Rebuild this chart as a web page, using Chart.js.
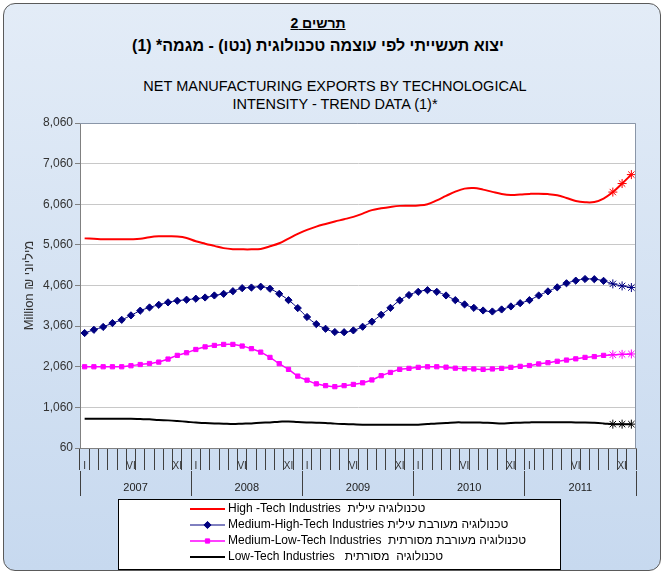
<!DOCTYPE html>
<html>
<head>
<meta charset="utf-8">
<script src="https://cdn.jsdelivr.net/npm/chart.js@4.4.0/dist/chart.umd.min.js"></script>
<style>
  body { margin: 0; background: #fff; font-family: Arial, "Liberation Sans", sans-serif; }
  #wrap { position: relative; width: 665px; height: 575px; overflow: hidden; }
  #panel {
    position: absolute; left: 3px; top: 3px; width: 656px; height: 566px;
    border: 1px solid #5a5a5a; border-radius: 12px;
    background: linear-gradient(to bottom, #e3ecf7, #c7d9ef);
  }
  .he { position: absolute; left: 0; width: 636px; text-align: center; direction: rtl; color: #000; font-weight: bold; }
  #num { top: 15px; font-size: 14px; text-decoration: underline; }
  #heTitle { top: 37px; font-size: 16px; }
  #enTitle { position: absolute; left: 0; top: 77px; width: 670px; text-align: center; font-size: 14.5px; line-height: 18px; color: #000; }
  #grafico { position: absolute; left: 0; top: 0; }
</style>
</head>
<body>
<div id="wrap">
  <div id="panel"></div>
  <div class="he" id="num">תרשים 2</div>
  <div class="he" id="heTitle">יצוא תעשייתי לפי עוצמה טכנולוגית (נטו) - מגמה* (1)</div>
  <div id="enTitle">NET MANUFACTURING EXPORTS BY TECHNOLOGICAL<br>INTENSITY - TREND DATA (1)*</div>
  <canvas id="grafico" width="665" height="575"></canvas>
</div>
<script>
// Datos: enero 2007 - diciembre 2011 (mensual), millones de ₪
const years = ['2007', '2008', '2009', '2010', '2011'];
const monthTicks = ['I', '', '', '', '', 'VI', '', '', '', '', 'XI', ''];
const provisionalCount = 3; // últimos meses marcados con asterisco

const highTech = [
  5220, 5210, 5200, 5200, 5200, 5200, 5210, 5250, 5270, 5270, 5265, 5230,
  5150, 5090, 5035, 4980, 4955, 4950, 4950, 4960, 5025, 5100, 5215, 5330,
  5430, 5510, 5575, 5635, 5690, 5750, 5830, 5915, 5960, 5995, 6020, 6025,
  6030, 6060, 6155, 6265, 6370, 6445, 6460, 6420, 6365, 6315, 6290, 6300,
  6314, 6320, 6310, 6280, 6215, 6140, 6110, 6115, 6200, 6360, 6570, 6790
];
const mediumHighTech = [
  2890, 2970, 3040, 3135, 3215, 3325, 3440, 3520, 3585, 3645, 3685, 3710,
  3735, 3765, 3815, 3855, 3920, 3995, 4010, 4030, 3980, 3855, 3700, 3505,
  3285, 3110, 2995, 2915, 2910, 2955, 3045, 3170, 3340, 3510, 3695, 3825,
  3905, 3945, 3905, 3815, 3700, 3595, 3510, 3445, 3420, 3470, 3545, 3625,
  3700, 3814, 3915, 4015, 4115, 4180, 4220, 4215, 4175, 4100, 4050, 4010
];
const mediumLowTech = [
  2060, 2060, 2060, 2060, 2060, 2085, 2115, 2140, 2175, 2250, 2340, 2405,
  2485, 2550, 2585, 2610, 2610, 2570, 2505, 2420, 2290, 2135, 1995, 1830,
  1730, 1640, 1595, 1570, 1595, 1625, 1665, 1735, 1840, 1920, 1995, 2020,
  2045, 2060, 2060, 2050, 2025, 2010, 2005, 1995, 2005, 2020, 2045, 2070,
  2090, 2130, 2160, 2195, 2225, 2255, 2290, 2310, 2340, 2355, 2365, 2375
];
const lowTech = [
  780, 780, 780, 780, 780, 780, 773, 765, 750, 740, 725, 707,
  685, 675, 666, 658, 650, 658, 666, 680, 690, 705, 715, 700,
  690, 683, 675, 660, 650, 642, 635, 635, 634, 634, 634, 634,
  634, 650, 666, 675, 690, 690, 690, 683, 675, 666, 675, 683,
  690, 695, 695, 695, 695, 690, 690, 680, 665, 647, 647, 647
];

const labels = years.flatMap(y => monthTicks.map((m, k) => y + '-' + (k + 1)));
const firstProvisional = labels.length - provisionalCount;

function serie(label, data, color, width, marker, radius) {
  return {
    label: label,
    data: data,
    borderColor: color,
    backgroundColor: color,
    borderWidth: width,
    tension: 0.4,
    marker: marker,
    markerRadius: radius,
    pointStyle: c => c.dataIndex >= firstProvisional ? 'star' : (marker || 'circle'),
    pointRadius: c => c.dataIndex >= firstProvisional ? 4.5 : (marker ? radius : 0),
    pointBackgroundColor: color,
    pointBorderColor: color,
    pointBorderWidth: 1
  };
}

// Fondo blanco y marco del área de trazado
const plotFrame = {
  id: 'plotFrame',
  beforeDraw(chart) {
    const { ctx, chartArea: a } = chart;
    ctx.save();
    ctx.fillStyle = '#ffffff';
    ctx.fillRect(a.left, a.top, a.width, a.height);
    ctx.restore();
  },
  afterDraw(chart) {
    const { ctx, chartArea: a } = chart;
    ctx.save();
    ctx.strokeStyle = '#8a96a8';
    ctx.lineWidth = 1;
    ctx.beginPath();
    ctx.moveTo(a.left, a.top + 0.5);
    ctx.lineTo(a.right - 0.5, a.top + 0.5);
    ctx.lineTo(a.right - 0.5, a.bottom);
    ctx.stroke();
    ctx.restore();
  }
};

// Leyenda en columna, como en Excel
const excelLegend = {
  id: 'excelLegend',
  afterDraw(chart) {
    const ctx = chart.ctx;
    const bx = 118, by = 499, bw = 442, bh = 70;
    ctx.save();
    ctx.fillStyle = '#ffffff';
    ctx.fillRect(bx, by, bw, bh);
    ctx.strokeStyle = '#000000';
    ctx.lineWidth = 1;
    ctx.strokeRect(bx + 0.5, by + 0.5, bw, bh);
    chart.data.datasets.forEach((ds, i) => {
      const y = by + 10 + i * 16;
      ctx.strokeStyle = ds.borderColor;
      ctx.lineWidth = ds.borderWidth;
      ctx.beginPath();
      ctx.moveTo(190, y);
      ctx.lineTo(225, y);
      ctx.stroke();
      if (ds.marker) {
        ctx.fillStyle = ds.borderColor;
        ctx.lineWidth = 1;
        Chart.helpers.drawPoint(ctx, { pointStyle: ds.marker, radius: ds.markerRadius, rotation: 0, borderWidth: 1 }, 207.5, y);
      }
      ctx.fillStyle = '#000000';
      ctx.font = '12px Arial, "Liberation Sans", sans-serif';
      ctx.textBaseline = 'middle';
      ctx.textAlign = 'left';
      ctx.direction = 'ltr';
      ctx.fillText(ds.label, 228, y);
    });
    ctx.restore();
  }
};

const ctx = document.getElementById('grafico').getContext('2d');
const grafico = new Chart(ctx, {
  type: 'line',
  data: {
    labels: labels,
    datasets: [
      serie('High -Tech Industries  טכנולוגיה עילית', highTech, '#ff0000', 2, null, 0),
      serie('Medium-High-Tech Industries טכנולוגיה מעורבת עילית', mediumHighTech, '#000080', 1, 'rectRot', 3.6),
      serie('Medium-Low-Tech Industries  טכנולוגיה מעורבת מסורתית', mediumLowTech, '#ff00ff', 1.5, 'rect', 3),
      serie('Low-Tech Industries   טכנולוגיה  מסורתית', lowTech, '#000000', 2, null, 0)
    ]
  },
  plugins: [plotFrame, excelLegend],
  options: {
    responsive: false,
    animation: false,
    devicePixelRatio: 1,
    layout: { padding: { left: 20, right: 29, top: 123, bottom: 79 } },
    font: { family: 'Arial, "Liberation Sans", sans-serif' },
    plugins: {
      legend: { display: false },
      title: { display: false },
      tooltip: { enabled: false }
    },
    scales: {
      x: {
        type: 'category',
        position: 'bottom',
        offset: true,
        grid: { offset: true, drawOnChartArea: false, tickLength: 22, tickColor: '#404040', tickWidth: 1 },
        border: { display: true, color: '#808080' },
        ticks: {
          autoSkip: false, maxRotation: 0, padding: -10,
          font: { size: 10 }, color: '#333333',
          callback: (v, i) => monthTicks[i % 12]
        },
        afterFit: s => { s.height = 23; }
      },
      x2: {
        type: 'category',
        labels: years,
        position: 'bottom',
        offset: true,
        grid: { offset: true, drawOnChartArea: false, tickLength: 25, tickColor: '#404040', tickWidth: 1 },
        border: { display: false },
        ticks: { autoSkip: false, maxRotation: 0, padding: -15, font: { size: 11 }, color: '#222222' },
        afterFit: s => { s.height = 25; }
      },
      y: {
        min: 60,
        max: 8060,
        ticks: {
          stepSize: 1000, padding: 2,
          font: { size: 12 }, color: '#333333',
          callback: v => v.toLocaleString('en-US')
        },
        grid: { color: '#c8c8c8', tickLength: 5, tickColor: '#808080' },
        border: { display: true, color: '#808080' },
        title: {
          display: true, text: 'Million ₪ מיליוני',
          font: { size: 13 }, color: '#333333',
          padding: { top: 2, bottom: 0 }
        },
        afterFit: s => { s.width = 60; }
      }
    }
  }
});
</script>
</body>
</html>
